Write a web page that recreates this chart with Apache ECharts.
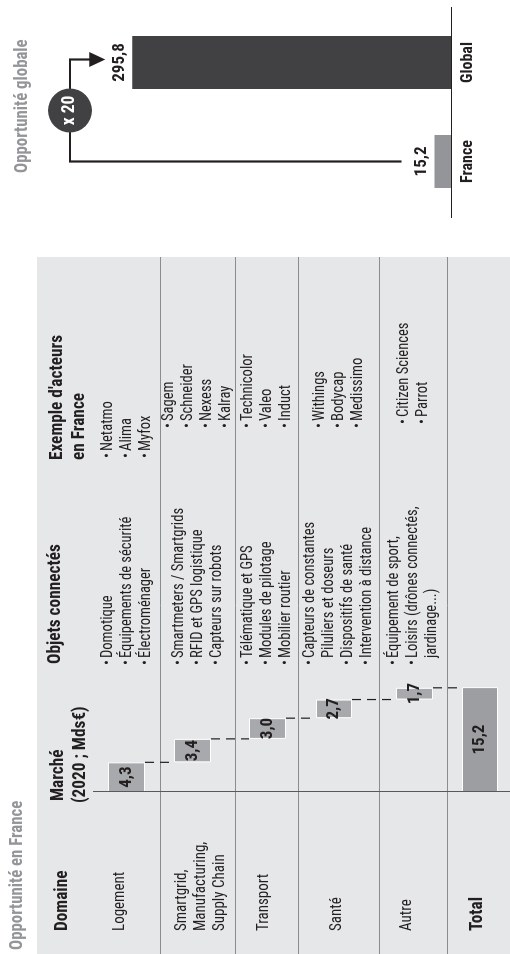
<!DOCTYPE html>
<html><head><meta charset="utf-8">
<script src="https://cdn.jsdelivr.net/npm/echarts@6.0.0/dist/echarts.min.js"></script>
<style>
html,body{margin:0;padding:0;width:510px;height:954px;overflow:hidden;background:#fff}
#chart{position:absolute;left:0;top:0;width:954px;height:510px;transform-origin:0 0;transform:translate(0,954px) rotate(-90deg);}
</style></head><body><div id="chart"></div>
<script>
// ---------- DATA ----------
const titles = ['Opportunité en France', 'Opportunité globale'];
const headers = ['Domaine', 'Marché\n(2020 ; Mds€)', 'Objets connectés', "Exemple d'acteurs\nen France"];
const domains = ['Logement', 'Smartgrid,\nManufacturing,\nSupply Chain', 'Transport', 'Santé', 'Autre'];
const marketValues = [4.3, 3.4, 3.0, 2.7, 1.7];
const totalLabel = 'Total';
const totalValue = 15.2;
const objects = [
  ['Domotique', 'Équipements de sécurité', 'Électroménager'],
  ['Smartmeters / Smartgrids', 'RFID et GPS logistique', 'Capteurs sur robots'],
  ['Télématique et GPS', 'Modules de pilotage', 'Mobilier routier'],
  ['Capteurs de constantes\nPiluliers et doseurs', 'Dispositifs de santé', 'Intervention à distance'],
  ['Équipement de sport,', 'Loisirs (drônes connectés,\njardinage...)']
];
const actors = [
  ['Netatmo', 'Alima', 'Myfox'],
  ['Sagem', 'Schneider', 'Nexess', 'Kalray'],
  ['Technicolor', 'Valeo', 'Induct'],
  ['Withings', 'Bodycap', 'Medissimo'],
  ['Citizen Sciences', 'Parrot']
];
const globalCategories = ['France', 'Global'];
const globalValues = [15.2, 295.8];
const multiplierLabel = 'x 20';

// ---------- STYLE / LAYOUT ----------
const FONT = "'Roboto Condensed','Liberation Sans',sans-serif";
const INK = '#231f20';
const GREYTXT = '#939598';
const rowBounds = [93, 160, 235, 298, 379, 447, 510];
const barBands = [[108,145],[174,211],[249,286],[316,352],[396,433],[462,498]];
const domainCenters = [120, 200.5, 264, 337, 407, 477];
const objBulletU = 289;
const actBulletU = [496, 526, 526, 526, 530];
const LH = 19;
const wfLeft = 162, wfWidth = 138, wfMax = 20;
const fmt = v => Number(v).toFixed(1).replace('.', ',');

const chart = echarts.init(document.getElementById('chart'));

const rowLabels = domains.concat([totalLabel]);
const rowValues = marketValues.concat([totalValue]);
const bases = []; const cums = [];
let acc = 0;
marketValues.forEach(v => { bases.push(acc); acc += v; cums.push(acc); });
bases.push(0);

const grids = [], xAxes = [], yAxes = [], series = [];
rowLabels.forEach((lab, i) => {
  grids.push({left: wfLeft, width: wfWidth, top: barBands[i][0], height: barBands[i][1] - barBands[i][0]});
  xAxes.push({gridIndex: i, type: 'value', min: 0, max: wfMax, show: false});
  yAxes.push({gridIndex: i, type: 'category', data: [lab], show: false});
  series.push({type: 'bar', xAxisIndex: i, yAxisIndex: i, stack: 'w' + i, data: [bases[i]],
    barWidth: '100%', itemStyle: {color: 'rgba(0,0,0,0)'}, silent: true});
  series.push({type: 'bar', xAxisIndex: i, yAxisIndex: i, stack: 'w' + i, data: [rowValues[i]],
    barWidth: '100%',
    itemStyle: {color: i === rowLabels.length - 1 ? '#9c9ea1' : '#a7a9ac', borderColor: '#ffffff', borderWidth: 1},
    label: {show: true, position: 'inside', formatter: p => fmt(p.value), fontFamily: FONT,
      fontWeight: 'bold', fontSize: 17, color: INK}});
});

const GI = rowLabels.length;
grids.push({left: 743, right: 13, top: 127.6, bottom: 59});
xAxes.push({gridIndex: GI, type: 'category', data: globalCategories,
  axisLine: {show: false}, axisTick: {show: false},
  axisLabel: {margin: 9, fontFamily: FONT, fontWeight: 'bold', fontSize: 16, color: INK}});
yAxes.push({gridIndex: GI, type: 'value', min: 0, max: 300, show: false});
const globalColors = ['#939598', '#414042'];
series.push({type: 'bar', xAxisIndex: GI, yAxisIndex: GI, barWidth: 53,
  data: globalValues.map((v, i) => ({value: v, itemStyle: {color: globalColors[i]}})),
  label: {show: true, position: 'top', distance: 4, formatter: p => fmt(p.value),
    fontFamily: FONT, fontWeight: 'bold', fontSize: 17, color: INK}});

chart.setOption({animation: false, grid: grids, xAxis: xAxes, yAxis: yAxes, series: series});

// ---------- GRAPHICS ----------
const g = [];
function txt(text, x, y, o) {
  o = o || {};
  const bold = o.weight === 'bold';
  g.push({type: 'text', x: x, y: y, z: 100, silent: true, scaleX: o.sx || (bold ? 0.96 : 0.91),
    style: {text: text, fontFamily: FONT,
    fontSize: o.size || 16, fontWeight: o.weight || 'normal', fill: o.color || INK,
    align: o.align || 'left', verticalAlign: 'middle', lineHeight: o.lh || LH}});
}
function line(x1, y1, x2, y2, color, w, dash) {
  g.push({type: 'line', z: 50, silent: true, shape: {x1: x1, y1: y1, x2: x2, y2: y2},
    style: {stroke: color, lineWidth: w, lineDash: dash || null}});
}
const HB = {size: 18, weight: 'bold'};
// table background
g.push({type: 'rect', z: -10, silent: true, shape: {x: 0, y: 37, width: 697, height: 473}, style: {fill: '#e6e7e8'}});
// row separators
rowBounds.slice(1, -1).forEach(v => line(0, v + 0.5, 697, v + 0.5, '#8a8c8e', 1));
// column separator (base of waterfall)
const base0 = chart.convertToPixel({xAxisIndex: 0}, 0);
line(base0 + 0.5, rowBounds[0], base0 + 0.5, 510, '#58595b', 1);
// waterfall connectors
cums.forEach((c, i) => {
  const u = chart.convertToPixel({xAxisIndex: i}, c);
  line(u, barBands[i][1], u, barBands[i + 1][0], INK, 1.2, [9, 6]);
});
// titles
txt(titles[0], 4, 17.5, {size: 17.5, weight: 'bold', color: GREYTXT});
txt(titles[1], 781, 23, {size: 17.5, weight: 'bold', color: GREYTXT});
// headers
txt(headers[0], 23, 62, HB);
const mh = headers[1].split('\n');
txt(mh[0], 153, 58, HB);
txt(mh[1], 151, 80, HB);
txt(headers[2], 290, 55, HB);
const eh = headers[3].split('\n');
txt(eh[0], 494, 57, HB);
txt(eh[1], 494, 79, HB);
// domains
rowLabels.forEach((lab, i) => {
  if (i === rowLabels.length - 1) txt(lab, 23, domainCenters[i], HB);
  else txt(lab, 23, domainCenters[i], {size: 16.5});
});
// bullet lists
function bullets(items, rowIdx, bu) {
  const ls = [];
  items.forEach(it => it.split('\n').forEach((t, k) => ls.push({t: t, b: k === 0})));
  const c = (rowBounds[rowIdx] + rowBounds[rowIdx + 1]) / 2;
  const first = c - (ls.length - 1) * LH / 2;
  ls.forEach((l, k) => {
    const v = first + k * LH;
    if (l.b) txt('•', bu, v, {size: 16});
    txt(l.t, bu + 7, v, {size: 16});
  });
}
objects.forEach((items, i) => bullets(items, i, objBulletU));
actors.forEach((items, i) => bullets(items, i, actBulletU[i]));

// global chart baseline
const pF = chart.convertToPixel({gridIndex: GI}, [globalCategories[0], globalValues[0]]);
const pG = chart.convertToPixel({gridIndex: GI}, [globalCategories[1], globalValues[1]]);
const baseV = chart.convertToPixel({gridIndex: GI}, [globalCategories[0], 0])[1];
line(736, baseV + 0.5, 947, baseV + 0.5, INK, 1.2);
// arrow
const topV = 70, tipU = pG[0] + 3, tipV = pG[1] - 27;
g.push({type: 'polyline', z: 60, silent: true,
  shape: {points: [[pF[0], pF[1] - 33], [pF[0], topV], [tipU, topV], [tipU, tipV - 12]]},
  style: {stroke: INK, lineWidth: 2.2, fill: null}});
g.push({type: 'polygon', z: 60, silent: true,
  shape: {points: [[tipU - 7.5, tipV - 16], [tipU + 7.5, tipV - 16], [tipU, tipV]]},
  style: {fill: INK}});
const cU = (pF[0] + tipU) / 2;
g.push({type: 'circle', z: 70, silent: true, shape: {cx: cU, cy: topV, r: 22}, style: {fill: '#414042'}});
g.push({type: 'text', z: 80, silent: true, x: cU, y: topV, style: {text: multiplierLabel, fontFamily: FONT,
  fontSize: 17.5, fontWeight: 'bold', fill: '#ffffff', align: 'center', verticalAlign: 'middle'}});

chart.setOption({graphic: g});
</script></body></html>
